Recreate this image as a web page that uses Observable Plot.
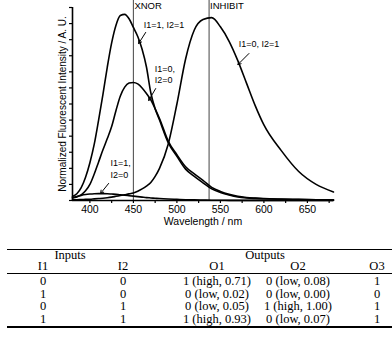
<!DOCTYPE html>
<html>
<head>
<meta charset="utf-8">
<script src="https://cdn.jsdelivr.net/npm/d3@7"></script>
<script src="https://cdn.jsdelivr.net/npm/@observablehq/plot@0.6"></script>
<style>
  html, body { margin: 0; padding: 0; background: #fff; }
  #wrap { position: relative; width: 392px; height: 349px; overflow: hidden; background: #fff; }
  #chart { position: absolute; left: 0; top: 0; }
  .cell { position: absolute; transform: translate(-50%, -50%); white-space: nowrap;
          font-family: "Liberation Serif", "Times New Roman", serif; font-size: 12.5px; line-height: 0.95; color: #000; }
  .rule { position: absolute; left: 7px; width: 385px; background: #000; }
</style>
</head>
<body>
<div id="wrap">
  <div id="chart"></div>
</div>
<script>
// ---- data: spectra (wavelength in nm, normalized intensity in arbitrary units) ----
const wavelength = [380,385,390,395,400,405,410,415,420,425,430,435,440,445,450,455,460,465,470,475,480,490,500,510,520,530,540,550,560,570,580,590,600,620,640,660,680];
const s11 = [0.025,0.042,0.08,0.145,0.235,0.35,0.50,0.66,0.83,0.98,1.09,1.15,1.157,1.13,1.076,1.02,0.94,0.83,0.67,0.57,0.50,0.36,0.275,0.195,0.15,0.11,0.072,0.05,0.034,0.022,0.016,0.013,0.011,0.008,0.006,0.004,0.003];
const s00 = [0.015,0.022,0.035,0.06,0.10,0.165,0.24,0.315,0.385,0.46,0.56,0.65,0.705,0.73,0.734,0.725,0.70,0.665,0.625,0.57,0.51,0.37,0.285,0.21,0.165,0.125,0.082,0.056,0.038,0.026,0.019,0.015,0.012,0.009,0.007,0.005,0.004];
const s10 = [0.018,0.025,0.032,0.037,0.04,0.042,0.043,0.043,0.042,0.04,0.038,0.035,0.033,0.03,0.027,0.024,0.021,0.018,0.016,0.014,0.012,0.009,0.007,0.005,0.004,0.003,0.002,0.002,0.001,0.001,0.001,0.001,0.001,0,0,0,0];
const s01 = [0.004,0.005,0.006,0.007,0.008,0.01,0.012,0.014,0.017,0.021,0.026,0.031,0.036,0.041,0.047,0.058,0.072,0.09,0.112,0.15,0.2,0.35,0.6,0.88,1.06,1.125,1.137,1.08,0.99,0.87,0.73,0.59,0.47,0.31,0.18,0.10,0.053];

// gate lines
const gateNames = ["XNOR", "INHIBIT"];
const gateWl = [450, 537];

// annotations (text lines with anchor positions in data units)
const annText = ["I1=1, I2=1", "I1=0,", "I2=0", "I1=1,", "I2=0", "I1=0, I2=1"];
const annX = [461.8, 474.5, 474.5, 423.8, 423.8, 571.2];
const annY = [1.088, 0.815, 0.746, 0.230, 0.155, 0.970];
// arrows
const arrX1 = [464.1, 475.6, 421.5, 582.8];
const arrY1 = [1.045, 0.696, 0.106, 0.914];
const arrX2 = [456.0, 467.6, 412.3, 570.1];
const arrY2 = [0.976, 0.622, 0.044, 0.845];

// axis ticks
const xTicks = d3.range(400, 680, 25);
const yTicks = d3.range(0, 12.5, 1).map(d => d / 10);

// ---- table data ----
const tblI1 = ["0", "1", "0", "1"];
const tblI2 = ["0", "0", "1", "1"];
const tblO1 = ["1 (high, 0.71)", "0 (low, 0.02)", "0 (low, 0.05)", "1 (high, 0.93)"];
const tblO2 = ["0 (low, 0.08)", "0 (low, 0.00)", "1 (high, 1.00)", "0 (low, 0.07)"];
const tblO3 = ["1", "0", "1", "1"];
const groupHeads = ["Inputs", "Outputs"];
const colHeads = ["I1", "I2", "O1", "O2", "O3"];

const font = "'Liberation Sans', Arial, sans-serif";
const series = [s11, s00, s10, s01];

const arrows = arrX1.map((x, i) => ({x1: x, y1: arrY1[i], x2: arrX2[i], y2: arrY2[i]}));

const chart = Plot.plot({
  width: 392,
  height: 232,
  marginLeft: 72,
  marginRight: 59,
  marginTop: 7,
  marginBottom: 32,
  style: {fontFamily: font, fontSize: "10px", background: "transparent", color: "#000"},
  x: {domain: [380, 680]},
  y: {domain: [0, 1.2]},
  marks: [
    Plot.axisX({ticks: xTicks, tickSize: 3, tickPadding: 2, tickFormat: d => d % 50 === 0 ? d : "", label: null, fontSize: 10.5, strokeWidth: 1.2}),
    Plot.axisY({ticks: yTicks, tickSize: 3, tickFormat: () => "", label: null, strokeWidth: 1.2}),
    Plot.ruleX(gateWl, {y1: 0, y2: 1.244, stroke: "#555", strokeWidth: 1.1}),
    Plot.text(gateNames, {x: gateWl, y: 1.21, text: d => d, textAnchor: "start", dx: 1, fontSize: 9.5}),
    ...series.map(s => Plot.lineY(s, {x: wavelength, curve: "monotone-x", stroke: "#000", strokeWidth: 1.6})),
    Plot.ruleX([380], {y1: 0, y2: 1.2, strokeWidth: 1.6}),
    Plot.ruleY([0], {x1: 380, x2: 680, strokeWidth: 1.6}),
    Plot.text(annText, {x: annX, y: annY, text: d => d, textAnchor: "start", fontSize: 9}),
    Plot.arrow(arrows, {x1: "x1", y1: "y1", x2: "x2", y2: "y2", stroke: "#000", strokeWidth: 1, headLength: 5}),
    Plot.text(["Wavelength / nm"], {frameAnchor: "bottom", lineAnchor: "middle", dy: 21, fontSize: 10.5}),
    Plot.text(["Normalized Fluorescent Intensity / A. U."], {frameAnchor: "left", textAnchor: "middle", lineAnchor: "middle", dx: -10, rotate: -90, fontSize: 10})
  ]
});
document.getElementById("chart").appendChild(chart);

// ---- table below the chart ----
const wrap = document.getElementById("wrap");
function cell(txt, cx, cy) {
  const d = document.createElement("div");
  d.className = "cell";
  d.textContent = txt;
  d.style.left = cx + "px";
  d.style.top = cy + "px";
  wrap.appendChild(d);
}
function rule(y, h) {
  const r = document.createElement("div");
  r.className = "rule";
  r.style.top = y + "px";
  r.style.height = h + "px";
  wrap.appendChild(r);
}
const colX = [43, 123, 217, 298, 377];
const groupX = [70, 265];
rule(248.5, 1.5);
groupHeads.forEach((t, i) => cell(t, groupX[i], 256));
colHeads.forEach((t, i) => cell(t, colX[i], 267));
rule(272.5, 0.8);
const rowY = [282, 294.5, 307, 319.5];
tblI1.forEach((_, r) => {
  [tblI1[r], tblI2[r], tblO1[r], tblO2[r], tblO3[r]].forEach((t, c) => cell(t, colX[c], rowY[r]));
});
rule(326, 1.5);
</script>
</body>
</html>
